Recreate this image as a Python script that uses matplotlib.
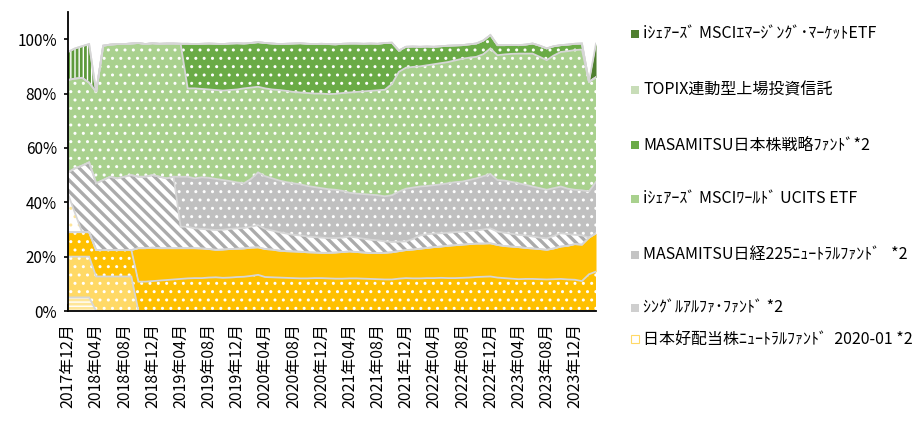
import numpy as np
import matplotlib
matplotlib.use("Agg")
import matplotlib.pyplot as plt
from matplotlib.patches import Rectangle

plt.rcParams['font.family'] = ['Noto Sans CJK JP', 'DejaVu Sans']

# ---------------- data (percent of portfolio, monthly 2017-12 .. 2024-03) ----------------
tick_labels = ["2017年12月", "2018年04月", "2018年08月", "2018年12月", "2019年04月",
               "2019年08月", "2019年12月", "2020年04月", "2020年08月", "2020年12月",
               "2021年04月", "2021年08月", "2021年12月", "2022年04月", "2022年08月",
               "2022年12月", "2023年04月", "2023年08月", "2023年12月"]

pale_stripe = [5, 5, 5, 5, 0, 0, 0, 0, 0, 0,
               0, 0, 0, 0, 0, 0, 0, 0, 0, 0,
               0, 0, 0, 0, 0, 0, 0, 0, 0, 0,
               0, 0, 0, 0, 0, 0, 0, 0, 0, 0,
               0, 0, 0, 0, 0, 0, 0, 0, 0, 0,
               0, 0, 0, 0, 0, 0, 0, 0, 0, 0,
               0, 0, 0, 0, 0, 0, 0, 0, 0, 0,
               0, 0, 0, 0, 0, 0]
pale_dots = [15, 15, 15, 15, 12.7, 12.7, 12.7, 12.7, 12.7, 12.7,
             0, 0, 0, 0, 0, 0, 0, 0, 0, 0,
             0, 0, 0, 0, 0, 0, 0, 0, 0, 0,
             0, 0, 0, 0, 0, 0, 0, 0, 0, 0,
             0, 0, 0, 0, 0, 0, 0, 0, 0, 0,
             0, 0, 0, 0, 0, 0, 0, 0, 0, 0,
             0, 0, 0, 0, 0, 0, 0, 0, 0, 0,
             0, 0, 0, 0, 0, 0]
orange_dots = [9, 9, 9, 9, 9.7, 9.7, 9.7, 9.7, 9.7, 9.7,
               10.8, 10.8, 11.0, 11.2, 11.4, 11.6, 11.8, 12.0, 12.1, 12.1,
               12.3, 12.4, 12.2, 12.3, 12.5, 12.6, 12.9, 13.3, 12.5, 12.4,
               12.3, 12.2, 12.1, 12.0, 12.0, 12.1, 12.1, 12.0, 11.9, 11.9,
               12.0, 12.0, 11.9, 11.8, 11.7, 11.6, 11.6, 11.9, 12.1, 12.0,
               12.0, 12.1, 12.1, 12.2, 12.1, 12.1, 12.2, 12.3, 12.5, 12.6,
               12.7, 12.3, 12.1, 11.9, 11.7, 11.8, 11.8, 11.7, 11.6, 11.7,
               11.8, 11.6, 11.5, 11.0, 13.5, 14.5]
orange_solid = [0, 0, 0, 0, 0, 0, 0, 0, 0, 0,
                12.3, 12.3, 12.3, 11.9, 11.7, 11.5, 11.3, 11.1, 11.0, 10.9,
                10.5, 10.1, 10.4, 10.5, 10.4, 10.4, 10.4, 10.1, 10.3, 10.2,
                9.9, 9.8, 9.8, 9.8, 9.6, 9.4, 9.3, 9.4, 9.6, 9.8,
                9.9, 9.7, 9.6, 9.5, 9.6, 9.8, 10.0, 10.1, 10.3, 10.6,
                10.9, 11.1, 11.4, 11.5, 11.9, 12.1, 12.2, 12.3, 12.3, 12.2,
                12.2, 12.0, 11.8, 11.8, 11.8, 11.4, 11.2, 11.1, 10.9, 11.3,
                11.9, 12.4, 13.1, 13.4, 13.5, 14.1]
koha_neutral = [14, 7, 0, 0, 0, 0, 0, 0, 0, 0,
                0, 0, 0, 0, 0, 0, 0, 0, 0, 0,
                0, 0, 0, 0, 0, 0, 0, 0, 0, 0,
                0, 0, 0, 0, 0, 0, 0, 0, 0, 0,
                0, 0, 0, 0, 0, 0, 0, 0, 0, 0,
                0, 0, 0, 0, 0, 0, 0, 0, 0, 0,
                0, 0, 0, 0, 0, 0, 0, 0, 0, 0,
                0, 0, 0, 0, 0, 0]
single_alpha = [8, 16.5, 24.5, 25.7, 24.6, 25.8, 27.0, 26.4, 27.0, 27.6,
                26.3, 26.3, 26.7, 26.3, 25.7, 26.3, 7.9, 7.9, 7.3, 7.2,
                7.2, 7.3, 7.3, 7.4, 7.5, 7.5, 7.7, 8.2, 7.4, 7.0,
                6.8, 6.5, 6.1, 6.0, 5.8, 5.7, 5.6, 5.4, 5.3, 5.3,
                5.5, 5.3, 5.1, 4.9, 4.7, 4.2, 3.8, 3.5, 3.2, 3.9,
                4.9, 5.0, 5.0, 4.9, 4.8, 4.8, 4.8, 4.8, 4.8, 5.2,
                5.5, 4.9, 4.9, 4.7, 4.5, 4.6, 4.4, 4.2, 4.2, 4.6,
                4.9, 4.3, 3.4, 3.4, 0, 0]
nikkei_neutral = [0, 0, 0, 0, 0, 0, 0, 0, 0, 0,
                  0, 0, 0, 0, 0, 0, 18.4, 18.4, 18.4, 19.0,
                  19.0, 18.8, 18.3, 17.6, 16.9, 16.5, 17.6, 19.4, 19.4, 19.2,
                  19.0, 18.9, 19.0, 18.8, 18.6, 18.4, 18.2, 18.0, 17.8, 17.2,
                  16.1, 16.2, 16.4, 16.6, 16.6, 16.6, 17.2, 18.4, 19.4, 18.9,
                  18.0, 17.8, 17.8, 18.0, 18.2, 18.4, 18.4, 18.8, 19.2, 19.6,
                  20.0, 19.0, 19.2, 19.1, 19.0, 18.6, 18.4, 18.2, 17.9, 17.6,
                  17.2, 16.7, 16.6, 16.6, 17.0, 18.9]
msci_world = [34, 33, 32.3, 29.3, 33.6, 49.4, 48.6, 49.4, 48.8, 48.4,
              49.2, 48.8, 48.5, 48.9, 49.6, 49.0, 48.9, 32.5, 33.1, 32.5,
              32.5, 32.7, 32.9, 33.5, 34.2, 34.9, 33.6, 31.5, 32.3, 32.7,
              33.3, 33.6, 33.6, 33.8, 34.2, 34.4, 34.8, 35.0, 35.3, 36.0,
              36.9, 37.4, 37.8, 38.2, 38.6, 39.2, 40.9, 44.1, 44.5, 44.4,
              44.2, 44.4, 44.5, 44.6, 44.6, 44.8, 45.2, 45.0, 44.7, 44.9,
              46.2, 45.9, 46.4, 47.1, 47.7, 48.3, 48.9, 48.3, 47.7, 48.8,
              49.5, 50.6, 51.4, 51.8, 40.3, 38.5]
jp_strategy = [0, 0, 0, 0, 0, 0, 0, 0, 0, 0,
               0, 0, 0, 0, 0, 0, 0, 16.4, 16.3, 16.6,
               16.9, 17.0, 17.1, 17.1, 17.0, 16.5, 16.4, 16.4, 16.7, 16.9,
               16.9, 17.3, 17.8, 18.1, 18.1, 18.2, 18.3, 18.4, 18.2, 18.1,
               18.0, 17.8, 17.5, 17.4, 17.1, 17.2, 15.2, 7.8, 7.7, 7.5,
               7.2, 6.9, 6.4, 6.2, 6.0, 5.5, 5.0, 4.9, 4.9, 5.0,
               4.9, 3.7, 3.4, 3.3, 3.1, 3.3, 3.7, 4.1, 4.3, 3.4,
               2.5, 2.4, 2.3, 2.2, 0, 0]
topix_etf = [10.3, 11.1, 11.6, 14.2, 0, 0, 0, 0, 0, 0,
             0, 0, 0, 0, 0, 0, 0, 0, 0, 0,
             0, 0, 0, 0, 0, 0, 0, 0, 0, 0,
             0, 0, 0, 0, 0, 0, 0, 0, 0, 0,
             0, 0, 0, 0, 0, 0, 0, 0, 0, 0,
             0, 0, 0, 0, 0, 0, 0, 0, 0, 0,
             0, 0, 0, 0, 0, 0, 0, 0, 0, 0,
             0, 0, 0, 0, 0, 0]
msci_em = [0, 0, 0, 0, 0, 0, 0, 0, 0, 0,
           0, 0, 0, 0, 0, 0, 0, 0, 0, 0,
           0, 0, 0, 0, 0, 0, 0, 0, 0, 0,
           0, 0, 0, 0, 0, 0, 0, 0, 0, 0,
           0, 0, 0, 0, 0, 0, 0, 0, 0, 0,
           0, 0, 0, 0, 0, 0, 0, 0, 0, 0,
           0, 0, 0, 0, 0, 0, 0, 0, 0, 0,
           0, 0, 0, 0, 0, 12.4]

legend_labels = ["iｼｪｱｰｽﾞ MSCIｴﾏｰｼﾞﾝｸﾞ･ﾏｰｹｯﾄETF",
                 "TOPIX連動型上場投資信託",
                 "MASAMITSU日本株戦略ﾌｧﾝﾄﾞ*2",
                 "iｼｪｱｰｽﾞ MSCIﾜｰﾙﾄﾞ UCITS ETF",
                 "MASAMITSU日経225ﾆｭｰﾄﾗﾙﾌｧﾝﾄﾞ   *2",
                 "ｼﾝｸﾞﾙｱﾙﾌｧ･ﾌｧﾝﾄﾞ *2",
                 "日本好配当株ﾆｭｰﾄﾗﾙﾌｧﾝﾄﾞ  2020-01 *2"]

# ---------------- styles (bottom -> top) ----------------
layers = [pale_stripe, pale_dots, orange_dots, orange_solid, koha_neutral,
          single_alpha, nikkei_neutral, msci_world, jp_strategy, topix_etf, msci_em]
DOTS = '..'
styles = [
    dict(fc='#FFE699', hc='white',   hatch='----',   hlw=1.0, ic='#FFE699'),
    dict(fc='#FFD966', hc='white',   hatch=DOTS,     hlw=1.0, ic='#FFD966'),
    dict(fc='#FFC000', hc='white',   hatch=DOTS,     hlw=1.0, ic='#FFC000'),
    dict(fc='#FFC000', hc='#FFC000', hatch=None,     hlw=1.0, ic='#FFC000'),
    dict(fc='white',   hc='#FFE699', hatch=DOTS,     hlw=1.0, ic='white'),
    dict(fc='white',   hc='#ABABAB', hatch='\\\\\\', hlw=2.4, ic='#CFCFCF'),
    dict(fc='#C0C0C0', hc='white',   hatch=DOTS,     hlw=1.0, ic='#C4C4C4'),
    dict(fc='#A9D18E', hc='white',   hatch=DOTS,     hlw=1.0, ic='#A9D18E'),
    dict(fc='#6AAB46', hc='white',   hatch=DOTS,     hlw=1.0, ic='#6AAB46'),
    dict(fc='white',   hc='#5E9A3C', hatch='||||',   hlw=2.0, ic='#C8DDB8'),
    dict(fc='#4F7F2F', hc='#4F7F2F', hatch=None,     hlw=1.0, ic='#4F7F2F'),
]

W, H = 923, 421
fig = plt.figure(figsize=(W / 100, H / 100), dpi=100)
ax = fig.add_axes([68 / W, 110 / H, (596 - 68) / W, (311 - 12) / H])

x = np.arange(len(msci_world))
data = np.array(layers, dtype=float)
tops = np.cumsum(data, axis=0)
bottoms = tops - data

for k, st in enumerate(styles):
    with plt.rc_context({'hatch.linewidth': st['hlw']}):
        coll = ax.fill_between(x, bottoms[k], tops[k], facecolor=st['fc'],
                               edgecolor=st['hc'], hatch=st['hatch'],
                               linewidth=0, zorder=2 + k * 0.01)
        if hasattr(coll, 'set_hatch_linewidth'):
            coll.set_hatch_linewidth(st['hlw'])

for k in range(len(styles)):
    ax.plot(x, tops[k], color='#D6D6D6', lw=1.3, zorder=3, solid_joinstyle='miter')

ax.set_xlim(0, len(x) - 1)
ax.set_ylim(0, 110)
ax.set_yticks([0, 20, 40, 60, 80, 100])
ax.set_yticklabels([f"{v}%" for v in [0, 20, 40, 60, 80, 100]], fontsize=11)
ax.set_xticks(x[::4])
ax.set_xticklabels(tick_labels, rotation=90, fontsize=11.5, va='top', ha='center')
ax.tick_params(axis='x', direction='in', length=5, width=1.2, pad=9)
ax.tick_params(axis='y', direction='out', length=3, width=1.2, pad=5)
for s in ['top', 'right']:
    ax.spines[s].set_visible(False)
for s in ['left', 'bottom']:
    ax.spines[s].set_linewidth(1.3)
    ax.spines[s].set_zorder(5)

# ---------------- legend (drawn manually, reversed order) ----------------
leg_y = [34, 90, 145, 199, 255, 308, 339]
leg_idx = [10, 9, 8, 7, 6, 5, 4]
for lab, yy, k in zip(legend_labels, leg_y, leg_idx):
    st = styles[k]
    r = Rectangle((631 / W, 1 - (yy + 4) / H), 8 / W, 8 / H, transform=fig.transFigure,
                  facecolor=st['ic'], edgecolor='#FFD966' if k == 4 else st['ic'],
                  linewidth=0.8 if k == 4 else 0)
    fig.add_artist(r)
    fig.text(643 / W, 1 - yy / H, lab, fontsize=11.5, va='center', ha='left')

fig.savefig('out.png', dpi=100)
